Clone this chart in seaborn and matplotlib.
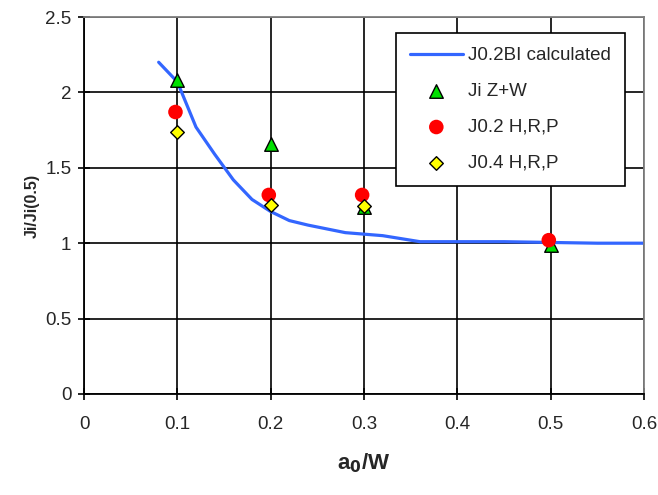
import matplotlib
matplotlib.use("Agg")
import matplotlib.pyplot as plt
import seaborn as sns
import pandas as pd

# calculated curve J0.2BI
x_calc = [0.08, 0.10, 0.12, 0.14, 0.16, 0.18, 0.20, 0.22, 0.24, 0.26, 0.28,
          0.30, 0.32, 0.34, 0.36, 0.40, 0.45, 0.50, 0.55, 0.60]
j_calc = [2.20, 2.07, 1.77, 1.59, 1.42, 1.29, 1.21, 1.15, 1.12, 1.095, 1.07,
          1.06, 1.05, 1.03, 1.01, 1.01, 1.01, 1.005, 1.0, 1.0]

# Ji Z+W
x_zw = [0.1, 0.2, 0.3, 0.5]
j_zw = [2.08, 1.66, 1.24, 0.99]

# J0.2 H,R,P
x_j02 = [0.098, 0.198, 0.298, 0.498]
j_j02 = [1.87, 1.32, 1.32, 1.02]

# J0.4 H,R,P
x_j04 = [0.1, 0.2, 0.3]
j_j04 = [1.74, 1.255, 1.25]

x_ticks = [0, 0.1, 0.2, 0.3, 0.4, 0.5, 0.6]
y_ticks = [0, 0.5, 1, 1.5, 2, 2.5]
tick_labels_x = ["0", "0.1", "0.2", "0.3", "0.4", "0.5", "0.6"]
tick_labels_y = ["0", "0.5", "1", "1.5", "2", "2.5"]

sns.set_style("white")
plt.rcParams['font.family'] = ['Liberation Sans', 'DejaVu Sans']

fig = plt.figure(figsize=(6.58, 4.95), dpi=100)
ax = fig.add_axes([84 / 658, 101 / 495, 560 / 658, 377 / 495])

ax.set_axisbelow(True)
ax.grid(True, color='black', linewidth=1.2)

calc = pd.DataFrame({'x': x_calc, 'y': j_calc})
sns.lineplot(data=calc, x='x', y='y', ax=ax, color='#3366FF', linewidth=2.3,
             label='J0.2BI calculated', sort=False)

sns.scatterplot(x=x_zw, y=j_zw, ax=ax, marker='^', s=95, color='#00E000',
                edgecolor='black', linewidth=1.0, label='Ji Z+W', zorder=3)
sns.scatterplot(x=x_j02, y=j_j02, ax=ax, marker='o', s=110, color='#FF0000',
                edgecolor='none', label='J0.2 H,R,P', zorder=4)
sns.scatterplot(x=x_j04, y=j_j04, ax=ax, marker='D', s=48, color='#FFFF00',
                edgecolor='black', linewidth=1.0, label='J0.4 H,R,P', zorder=5)

ax.set_xlim(0, 0.6)
ax.set_ylim(0, 2.5)
ax.set_xticks(x_ticks)
ax.set_xticklabels(tick_labels_x, fontsize=13.5)
ax.set_yticks(y_ticks)
ax.set_yticklabels(tick_labels_y, fontsize=13.5)
ax.tick_params(axis='both', direction='inout', length=8, width=1.2,
               color='black', bottom=True, left=True)
ax.tick_params(axis='x', pad=12)
ax.tick_params(axis='y', pad=5)

for side in ['left', 'bottom']:
    ax.spines[side].set_color('black')
    ax.spines[side].set_linewidth(1.3)
for side in ['top', 'right']:
    ax.spines[side].set_color('#808080')
    ax.spines[side].set_linewidth(1.3)

ax.set_xlabel('a$_\\mathbf{0}$/W', fontsize=16, fontweight='bold', labelpad=13)
ax.set_ylabel('Ji/Ji(0.5)', fontsize=11.5, fontweight='bold', labelpad=4)

leg = ax.legend(loc='upper left', bbox_to_anchor=(312 / 560, 361 / 377),
                fontsize=13.5, frameon=True, fancybox=False, framealpha=1,
                edgecolor='black', borderpad=0.75, labelspacing=1.0,
                handlelength=2.8, handletextpad=0.3, borderaxespad=0)
leg.get_frame().set_linewidth(1.2)

fig.savefig('out.png', dpi=100)
